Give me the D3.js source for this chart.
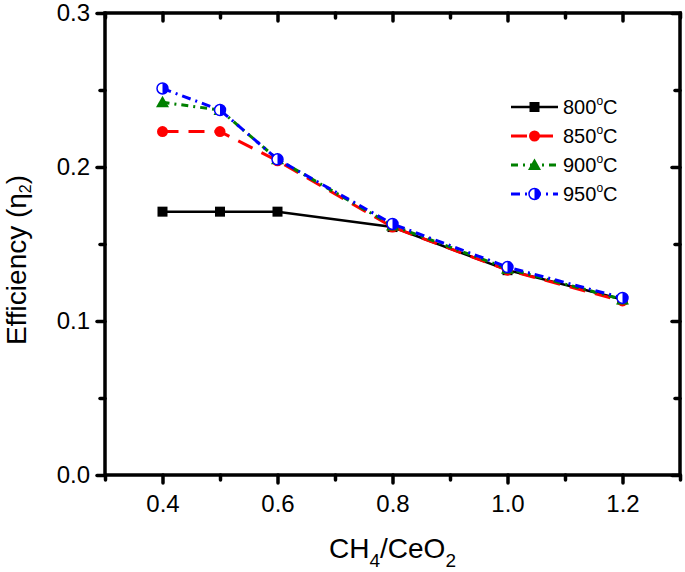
<!DOCTYPE html>
<html>
<head>
<meta charset="utf-8">
<script src="https://cdn.jsdelivr.net/npm/d3@7"></script>
<style>
  html, body { margin: 0; padding: 0; background: #fff; }
  text { font-family: "Liberation Sans", Arial, sans-serif; }
</style>
</head>
<body>
<svg id="chart" width="685" height="572"></svg>
<script>
// ---- data ----
const ratios = [0.4, 0.5, 0.6, 0.8, 1.0, 1.2];
const eff800 = [0.171, 0.171, 0.171, 0.161, 0.133, 0.114];
const eff850 = [0.223, 0.223, 0.204, 0.161, 0.133, 0.113];
const eff900 = [0.242, 0.237, 0.205, 0.162, 0.134, 0.114];
const eff950 = [0.251, 0.237, 0.205, 0.163, 0.135, 0.115];
const seriesNames = ["800", "850", "900", "950"];
const xTickValues = [0.4, 0.6, 0.8, 1.0, 1.2];
const xMinorValues = [0.3, 0.5, 0.7, 0.9, 1.1, 1.3];
const yTickValues = [0.0, 0.1, 0.2, 0.3];
const yMinorValues = [0.05, 0.15, 0.25];

const seriesValues = [eff800, eff850, eff900, eff950];
const styles = [
  { color: "#000000", width: 2.5, dash: null, marker: "square" },
  { color: "#ff0000", width: 3, dash: "16,10", marker: "circle" },
  { color: "#008000", width: 3, dash: "7,5,2,5", marker: "triangle" },
  { color: "#0000ff", width: 3, dash: "9,5,2,5", marker: "half" }
];

const svg = d3.select("#chart");
const pLeft = 105, pRight = 680, pTop = 13, pBottom = 475;
const x = d3.scaleLinear().domain([0.3, 1.3]).range([pLeft, pRight]);
const y = d3.scaleLinear().domain([0, 0.3]).range([pBottom, pTop]);

// ---- data lines ----
const line = d3.line().x(d => x(d[0])).y(d => y(d[1]));
const plot = svg.append("g");

function drawMarker(g, type, cx, cy, color) {
  if (type === "square") {
    g.append("rect").attr("x", cx - 5).attr("y", cy - 5).attr("width", 10).attr("height", 10).attr("fill", color);
  } else if (type === "circle") {
    g.append("circle").attr("cx", cx).attr("cy", cy).attr("r", 5.5).attr("fill", color);
  } else if (type === "triangle") {
    g.append("path").attr("d", `M${cx},${cy - 6.5} L${cx + 6.5},${cy + 5} L${cx - 6.5},${cy + 5} Z`).attr("fill", color);
  } else if (type === "half") {
    const r = 5.5;
    g.append("circle").attr("cx", cx).attr("cy", cy).attr("r", r).attr("fill", "#fff");
    g.append("path").attr("d", `M${cx},${cy - r} A${r},${r} 0 0 1 ${cx},${cy + r} Z`).attr("fill", color);
    g.append("circle").attr("cx", cx).attr("cy", cy).attr("r", r).attr("fill", "none").attr("stroke", color).attr("stroke-width", 1.5);
  }
}

seriesValues.forEach((vals, i) => {
  const st = styles[i];
  const pts = ratios.map((r, j) => [r, vals[j]]);
  plot.append("path").datum(pts).attr("d", line)
    .attr("fill", "none").attr("stroke", st.color).attr("stroke-width", st.width)
    .attr("stroke-dasharray", st.dash);
  pts.forEach(p => drawMarker(plot, st.marker, x(p[0]), y(p[1]), st.color));
});

// ---- axes ----
function styleAxis(g) {
  g.select(".domain").remove();
  g.selectAll(".tick line").attr("stroke", "#000").attr("stroke-width", 3.5).attr("stroke-linecap", "round");
  g.selectAll(".tick text").attr("fill", "#000").style("font-size", "24px")
    .style("font-family", "'Liberation Sans', Arial, sans-serif");
}
const fmt = d3.format(".1f");

svg.append("g").attr("transform", `translate(0,${pBottom})`)
  .call(d3.axisBottom(x).tickValues(xTickValues).tickFormat(fmt).tickSize(8).tickPadding(12)).call(styleAxis);
svg.append("g").attr("transform", `translate(0,${pBottom})`)
  .call(d3.axisBottom(x).tickValues(xMinorValues).tickFormat("").tickSize(5)).call(styleAxis);
svg.append("g").attr("transform", `translate(0,${pTop})`)
  .call(d3.axisTop(x).tickValues(xTickValues).tickFormat("").tickSize(-8)).call(styleAxis);
svg.append("g").attr("transform", `translate(0,${pTop})`)
  .call(d3.axisTop(x).tickValues(xMinorValues).tickFormat("").tickSize(-5)).call(styleAxis);

svg.append("g").attr("transform", `translate(${pLeft},0)`)
  .call(d3.axisLeft(y).tickValues(yTickValues).tickFormat(fmt).tickSize(8).tickPadding(7)).call(styleAxis);
svg.append("g").attr("transform", `translate(${pLeft},0)`)
  .call(d3.axisLeft(y).tickValues(yMinorValues).tickFormat("").tickSize(5)).call(styleAxis);
svg.append("g").attr("transform", `translate(${pRight},0)`)
  .call(d3.axisRight(y).tickValues(yTickValues).tickFormat("").tickSize(-8)).call(styleAxis);
svg.append("g").attr("transform", `translate(${pRight},0)`)
  .call(d3.axisRight(y).tickValues(yMinorValues).tickFormat("").tickSize(-5)).call(styleAxis);

svg.append("rect").attr("x", pLeft).attr("y", pTop).attr("width", pRight - pLeft).attr("height", pBottom - pTop)
  .attr("fill", "none").attr("stroke", "#000").attr("stroke-width", 3.5);

// ---- axis titles ----
const xt = svg.append("text").attr("x", (pLeft + pRight) / 2).attr("y", 558)
  .attr("text-anchor", "middle").style("font-size", "28px");
xt.append("tspan").text("CH");
xt.append("tspan").text("4").style("font-size", "19px").attr("dy", 9);
xt.append("tspan").text("/CeO").attr("dy", -9);
xt.append("tspan").text("2").style("font-size", "19px").attr("dy", 9);

const yt = svg.append("text").attr("transform", `translate(26,260) rotate(-90)`)
  .attr("text-anchor", "middle").style("font-size", "28px");
yt.append("tspan").text("Efficiency (");
yt.append("tspan").text("η");
yt.append("tspan").text("2").style("font-size", "16px").attr("dy", 5);
yt.append("tspan").text(")").attr("dy", -5);

// ---- legend ----
const leg = svg.append("g");
seriesNames.forEach((name, i) => {
  const st = styles[i];
  const ly = 107 + i * 29;
  leg.append("line").attr("x1", 511).attr("x2", 558).attr("y1", ly).attr("y2", ly)
    .attr("stroke", st.color).attr("stroke-width", st.width).attr("stroke-dasharray", st.dash);
  drawMarker(leg, st.marker, 534.5, ly, st.color);
  const t = leg.append("text").attr("x", 563).attr("y", ly + 7).style("font-size", "20px");
  t.append("tspan").text(name);
  t.append("tspan").text("o").style("font-size", "12px").attr("dy", -9);
  t.append("tspan").text("C").attr("dy", 9);
});
</script>
</body>
</html>
